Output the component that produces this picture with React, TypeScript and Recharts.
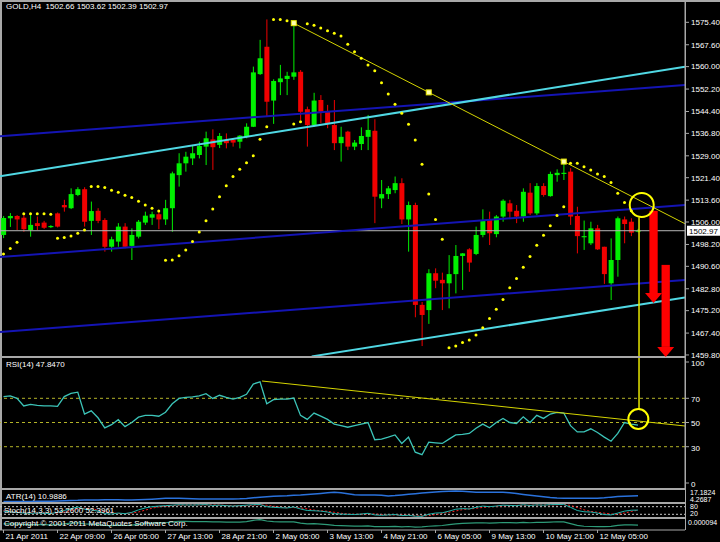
import React from 'react';
import {
  ComposedChart,
  Bar,
  Line,
  Scatter,
  XAxis,
  YAxis,
  ReferenceLine,
  ReferenceDot,
} from 'recharts';

// GOLD H4, 21 Apr - 12 May 2011, one entry per 4h bar
const opens = [
  1501.5, 1507.3, 1508.1, 1507.5, 1503.2, 1505.6, 1505.8, 1504.2, 1509.0, 1511.9,
  1510.8, 1515.4, 1517.4, 1506.4, 1509.9, 1506.7, 1497.4, 1499.2, 1504.4, 1497.7,
  1500.9, 1505.8, 1507.5, 1508.7, 1506.9, 1510.8, 1522.3, 1526.4, 1528.1, 1529.3,
  1532.2, 1534.7, 1532.8, 1534.5, 1534.5, 1533.9, 1535.6, 1539.1, 1557.4, 1566.9,
  1548.2, 1554.6, 1555.7, 1556.5, 1558.2, 1545.2, 1539.7, 1548.4, 1544.3, 1539.7,
  1533.4, 1537.4, 1532.2, 1533.1, 1535.6, 1537.7, 1514.2, 1515.7, 1517.1, 1519.5,
  1506.9, 1511.9, 1477.2, 1475.4, 1488.2, 1485.9, 1484.7, 1487.9, 1494.2, 1496.5,
  1494.9, 1501.5, 1506.7, 1501.8, 1507.9, 1512.5, 1509.9, 1507.9, 1516.2, 1509.0,
  1518.5, 1515.0, 1522.3, 1522.7, 1523.5, 1508.1, 1500.7, 1498.6, 1503.8, 1497.4,
  1484.7, 1492.8, 1506.9, 1506.1, 1502.66,
];
const highs = [
  1508.1, 1509.1, 1508.4, 1508.4, 1508.4, 1507.9, 1506.4, 1504.9, 1509.3, 1513.7,
  1517.7, 1518.1, 1518.1, 1513.1, 1510.8, 1507.3, 1500.9, 1505.6, 1505.6, 1503.8,
  1506.7, 1509.6, 1509.6, 1510.2, 1513.7, 1523.5, 1529.9, 1530.4, 1532.8, 1533.9,
  1537.4, 1538.2, 1536.9, 1536.8, 1535.1, 1536.2, 1540.3, 1560.0, 1569.3, 1576.4,
  1555.6, 1560.6, 1558.2, 1575.1, 1558.8, 1546.1, 1550.9, 1550.1, 1546.7, 1548.4,
  1539.1, 1537.7, 1534.5, 1538.9, 1543.2, 1541.7, 1520.6, 1518.5, 1521.8, 1521.2,
  1513.1, 1512.7, 1478.2, 1489.6, 1489.9, 1488.4, 1494.5, 1498.0, 1495.2, 1496.9,
  1504.4, 1510.4, 1509.6, 1508.4, 1513.9, 1513.7, 1511.9, 1517.7, 1519.5, 1519.5,
  1519.5, 1523.5, 1524.3, 1527.0, 1524.7, 1511.3, 1506.5, 1506.1, 1505.0, 1497.4,
  1500.3, 1507.9, 1507.9, 1507.3, 1503.62,
];
const lows = [
  1500.4, 1504.3, 1503.2, 1502.6, 1500.9, 1503.2, 1503.6, 1503.9, 1504.1, 1509.6,
  1510.5, 1515.0, 1504.4, 1501.5, 1505.6, 1495.7, 1495.7, 1497.4, 1496.9, 1492.8,
  1500.3, 1505.0, 1505.0, 1503.5, 1505.0, 1502.6, 1518.3, 1523.5, 1525.8, 1528.1,
  1525.8, 1524.1, 1531.7, 1531.6, 1532.2, 1531.6, 1535.1, 1539.0, 1557.1, 1542.8,
  1540.1, 1550.1, 1550.1, 1555.4, 1541.4, 1532.2, 1539.1, 1540.3, 1538.6, 1531.0,
  1527.0, 1531.0, 1531.0, 1531.0, 1531.0, 1505.6, 1510.8, 1514.0, 1516.0, 1505.3,
  1495.7, 1472.9, 1462.9, 1470.6, 1483.0, 1475.4, 1476.0, 1481.2, 1482.4, 1488.7,
  1494.5, 1500.7, 1498.0, 1500.7, 1506.1, 1507.3, 1505.6, 1506.1, 1508.4, 1508.4,
  1514.8, 1514.8, 1520.0, 1520.6, 1505.0, 1495.1, 1496.3, 1498.0, 1496.3, 1484.5,
  1478.9, 1487.0, 1498.6, 1501.1, 1502.39,
];
const closes = [
  1507.4, 1508.1, 1506.9, 1503.5, 1505.0, 1504.6, 1504.0, 1504.6, 1504.4, 1511.1,
  1515.7, 1517.4, 1506.1, 1509.8, 1506.4, 1497.4, 1500.0, 1504.4, 1497.4, 1501.5,
  1506.1, 1508.2, 1508.7, 1506.9, 1510.8, 1522.9, 1526.4, 1528.7, 1529.9, 1532.4,
  1535.1, 1532.0, 1535.9, 1533.4, 1533.6, 1536.0, 1539.1, 1558.0, 1562.9, 1547.8,
  1555.0, 1555.9, 1556.8, 1558.0, 1544.3, 1539.7, 1548.2, 1544.3, 1540.3, 1533.4,
  1535.6, 1532.2, 1533.6, 1535.9, 1538.0, 1514.8, 1515.7, 1517.7, 1519.5, 1506.9,
  1511.9, 1477.2, 1473.7, 1488.2, 1485.6, 1484.7, 1487.9, 1494.2, 1495.1, 1491.9,
  1501.5, 1506.7, 1502.1, 1507.9, 1513.4, 1509.6, 1507.9, 1516.5, 1509.0, 1518.5,
  1515.4, 1522.7, 1523.1, 1523.1, 1507.9, 1501.1, 1501.1, 1503.8, 1496.5, 1487.9,
  1492.8, 1507.3, 1505.3, 1502.3, 1502.97,
];
// Parabolic SAR
const sar = [
  1494.9, 1496.8, 1499.0, 1508.9, 1508.9, 1508.9, 1508.9, 1508.7, 1500.4, 1500.6,
  1501.1, 1502.1, 1503.2, 1518.3, 1518.3, 1518.0, 1517.0, 1516.3, 1515.3, 1514.5,
  1513.2, 1511.9, 1510.8, 1509.8, 1492.7, 1492.8, 1494.3, 1496.3, 1499.2, 1502.5,
  1506.4, 1510.5, 1514.8, 1518.6, 1521.8, 1524.3, 1526.6, 1529.0, 1534.8, 1539.1,
  1576.4, 1576.4, 1575.9, 1540.1, 1540.8, 1574.9, 1574.4, 1573.4, 1572.5, 1571.6,
  1570.6, 1567.8, 1565.2, 1562.9, 1560.6, 1558.6, 1554.4, 1550.5, 1546.9, 1543.8,
  1540.0, 1534.5, 1526.1, 1515.7, 1506.9, 1500.0, 1462.3, 1462.9, 1464.1, 1465.0,
  1466.7, 1469.3, 1472.5, 1475.7, 1479.1, 1483.2, 1486.4, 1490.3, 1494.0, 1497.9,
  1501.4, 1504.7, 1508.3, 1511.3, 1526.4, 1526.4, 1525.2, 1524.1, 1522.7, 1521.8,
  1519.7, 1516.0, 1512.8, 1509.9, null,
];
const rsi = [
  71.4, 72.0, 69.9, 63.7, 65.0, 64.2, 63.7, 63.7, 63.4, 71.4,
  74.0, 75.1, 57.0, 59.6, 53.9, 45.6, 48.2, 52.3, 46.6, 50.0,
  54.4, 55.9, 55.9, 55.2, 58.5, 65.5, 69.9, 70.7, 71.2, 72.0,
  73.8, 69.9, 72.5, 70.7, 69.4, 70.7, 73.3, 81.8, 83.6, 65.5,
  68.9, 69.4, 69.4, 70.2, 55.9, 52.6, 57.8, 55.2, 52.6, 48.7,
  47.4, 46.1, 47.4, 48.7, 50.0, 35.8, 36.3, 37.9, 39.7, 32.7,
  37.9, 25.5, 23.4, 33.7, 33.2, 32.7, 36.3, 39.7, 40.2, 41.0,
  45.3, 48.7, 45.6, 50.0, 53.4, 50.0, 49.2, 54.7, 50.0, 55.9,
  53.4, 57.0, 58.3, 57.8, 47.4, 42.2, 42.2, 44.8, 41.7, 37.9,
  34.5, 41.0, 50.0, 48.7, 47.847,
];
const atr = [
  4.4, 4.4, 4.3, 4.3, 4.4, 4.5, 4.6, 4.7, 4.9, 5.2,
  5.5, 5.6, 5.9, 6.0, 6.0, 6.2, 6.3, 6.2, 6.1, 6.0,
  6.3, 6.6, 7.0, 7.5, 8.0, 8.2, 8.0, 7.7, 7.4, 7.2,
  7.2, 7.3, 7.2, 7.1, 7.2, 7.4, 7.9, 8.6, 9.2, 9.9,
  10.5, 10.8, 11.0, 11.5, 11.9, 12.5, 13.2, 13.8, 14.5, 15.1,
  14.4, 13.5, 12.3, 11.9, 11.8, 11.9, 11.5, 10.7, 11.2, 11.9,
  12.7, 13.4, 14.2, 14.8, 15.4, 15.9, 16.3, 16.6, 16.2, 15.6,
  15.1, 15.2, 15.0, 15.1, 15.2, 14.6, 13.6, 12.5, 11.5, 10.6,
  9.8, 9.0, 8.4, 8.0, 8.0, 8.1, 8.0, 8.0, 8.1, 8.6,
  9.4, 10.0, 10.5, 10.8, 10.99,
];
const stochMain = [
  45, 40, 35, 30, 28, 30, 28, 26, 35, 50,
  65, 78, 60, 55, 45, 25, 22, 30, 25, 35,
  55, 70, 80, 85, 88, 92, 95, 94, 93, 95,
  96, 90, 92, 88, 85, 88, 92, 96, 97, 80,
  75, 72, 70, 78, 62, 50, 48, 45, 38, 25,
  22, 20, 18, 22, 28, 15, 12, 15, 18, 10,
  12, 5, 4, 20, 30, 32, 45, 60, 65, 62,
  75, 85, 80, 85, 92, 90, 88, 95, 90, 94,
  92, 96, 97, 98, 75, 50, 40, 38, 30, 18,
  15, 30, 45, 52, 53.26,
];
const stochSignal = [
  48, 44, 40, 35, 31, 29, 29, 28, 30, 37,
  50, 64, 68, 64, 53, 42, 31, 26, 26, 30,
  38, 53, 68, 78, 84, 88, 92, 94, 94, 94,
  95, 94, 93, 90, 88, 87, 88, 92, 95, 91,
  84, 76, 72, 73, 70, 63, 53, 48, 44, 36,
  28, 22, 20, 20, 23, 22, 18, 14, 15, 14,
  13, 9, 7, 10, 18, 27, 36, 46, 57, 62,
  67, 74, 80, 83, 86, 89, 90, 91, 91, 93,
  92, 94, 95, 97, 90, 74, 55, 43, 36, 29,
  21, 21, 30, 42, 52.4,
];
const extra = [
  5.5, 5.6, 5.4, 5.0, 4.8, 4.9, 4.8, 4.7, 4.9, 5.6,
  6.2, 6.6, 5.6, 5.4, 5.0, 4.2, 4.0, 4.4, 4.1, 4.5,
  5.2, 5.8, 6.2, 6.4, 6.6, 7.4, 7.8, 7.8, 7.7, 7.6,
  7.6, 7.3, 7.4, 7.2, 7.1, 7.2, 7.6, 8.8, 9.5, 8.2,
  7.6, 7.4, 7.3, 7.4, 6.2, 5.5, 5.8, 5.3, 4.9, 4.2,
  3.9, 3.7, 3.6, 3.6, 3.8, 3.0, 3.0, 3.1, 3.3, 2.9,
  3.2, 2.7, 2.8, 3.4, 3.8, 4.1, 4.8, 5.6, 6.0, 6.2,
  6.4, 6.6, 6.3, 6.5, 6.8, 6.7, 6.5, 6.9, 6.6, 7.0,
  6.9, 7.2, 7.5, 7.3, 5.8, 4.2, 3.4, 3.2, 3.0, 3.0,
  3.3, 4.2, 4.6, 4.6, 4.5,
];

const priceTicks = [
  1575.4, 1567.6, 1560.0, 1552.2, 1544.4, 1536.8, 1529.0, 1521.4,
  1513.6, 1506.0, 1498.2, 1490.6, 1482.8, 1475.2, 1467.4, 1459.8,
];
const rsiTicks = [0, 30, 50, 70, 100];
const dateBars = [0, 8, 16, 24, 32, 40, 48, 56, 64, 72, 80, 88];
const dateLabels = [
  '21 Apr 2011', '22 Apr 09:00', '26 Apr 05:00', '27 Apr 13:00', '28 Apr 21:00', '2 May 05:00',
  '3 May 13:00', '4 May 21:00', '6 May 05:00', '9 May 13:00', '10 May 21:00', '12 May 05:00',
];
const lastPrice = 1502.97;

// drawn objects, anchored in (bar, price)
const channelCyan = [
  [-0.52, 1521.9, 100.96, 1560.0],
  [45.66, 1459.3, 100.96, 1479.8],
];
const channelBlue = [
  [-0.52, 1535.8, 100.96, 1553.6],
  [-0.52, 1493.8, 100.96, 1511.9],
  [-0.52, 1467.8, 100.96, 1485.85],
];
const priceTrend = [43, 1575.1, 83, 1527.0];
const rsiTrend = [38.3, 84.3, 100.96, 47.1];
const arrows = [
  [96.3, 1509.9, 1481.3],
  [98.1, 1491.1, 1462.6],
];

const X_MIN = -0.5185;
const X_MAX = 100.96;
const FONT = '"Liberation Sans", Arial, sans-serif';
const BULL = '#00f000';
const BEAR = '#f00000';
const FRAME = '#a8a8a8';
const YELLOW = '#ffff00';

const mainRows = opens.map((o, i) => ({
  i,
  o,
  h: highs[i],
  l: lows[i],
  c: closes[i],
  range: [lows[i], highs[i]],
  sar: sar[i],
}));
const rsiRows = rsi.map((v, i) => ({ i, v }));
const atrRows = atr.map((v, i) => ({ i, v }));
const stochRows = stochMain.map((v, i) => ({ i, v, s: stochSignal[i] }));
const extraRows = extra.map((v, i) => ({ i, v }));

const Candle = (props: any) => {
  const { x, y, width, height, payload } = props;
  if (!payload || !isFinite(y) || !isFinite(height)) return null;
  const { o, h, l, c } = payload;
  const cx = x + width / 2;
  const span = h - l || 1;
  const py = (p: number) => y + ((h - p) / span) * height;
  const color = c >= o ? BULL : BEAR;
  const top = py(Math.max(o, c));
  const bot = py(Math.min(o, c));
  return (
    <g>
      <line x1={cx} x2={cx} y1={y} y2={y + height} stroke={color} strokeWidth={1} />
      <rect x={cx - 2.5} y={top} width={5} height={Math.max(1, bot - top)} fill={color} />
    </g>
  );
};

const SarDot = (props: any) => {
  const { cx, cy } = props;
  if (!isFinite(cx) || !isFinite(cy)) return null;
  return <circle cx={cx} cy={cy} r={1.5} fill={YELLOW} />;
};

const Square = (props: any) => (
  <rect x={props.cx - 2.5} y={props.cy - 2.5} width={5} height={5} fill="#ffffb0" stroke="#e8e800" />
);

const ArrowHead = (props: any) => (
  <polygon
    points={`${props.cx - 8.5},${props.cy} ${props.cx + 8.5},${props.cy} ${props.cx},${props.cy + 10}`}
    fill="#ff0000"
  />
);

const PriceTag = (props: any) => {
  const vb = props.viewBox || {};
  const x = vb.x + vb.width + 2;
  const y = vb.y;
  return (
    <g>
      <rect x={x} y={y - 5} width={34} height={10} fill="#ffffff" />
      <text x={x + 2} y={y + 3} fill="#000" fontSize={8} fontFamily={FONT}>
        {lastPrice.toFixed(2)}
      </text>
    </g>
  );
};

const DateTick = (props: any) => {
  const { x, y, payload } = props;
  const idx = dateBars.indexOf(payload.value);
  return (
    <text x={x + 2} y={y + 6} fill="#fff" fontSize={8} fontFamily={FONT}>
      {dateLabels[idx]}
    </text>
  );
};

const trendEnd = () => {
  const [x1, p1, x2, p2] = priceTrend;
  const slope = (p2 - p1) / (x2 - x1);
  return p2 + slope * (X_MAX - x2);
};

const txt = (s: string, left: number, top: number, size = 8) => (
  <div
    style={{
      position: 'absolute',
      left,
      top,
      fontSize: size,
      lineHeight: `${size}px`,
      color: '#fff',
      fontFamily: FONT,
      whiteSpace: 'pre',
    }}
  >
    {s}
  </div>
);

const bar = (left: number, top: number, width: number, height: number) => (
  <div style={{ position: 'absolute', left, top, width, height, background: FRAME }} />
);

export default function App() {
  const hiddenX = (
    <XAxis type="number" dataKey="i" domain={[X_MIN, X_MAX]} allowDataOverflow hide />
  );
  return (
    <div
      style={{
        position: 'absolute',
        left: 0,
        top: 0,
        width: 720,
        height: 542,
        background: '#000',
        overflow: 'hidden',
      }}
    >
      {/* frame, under the windows */}
      {bar(0, 0, 720, 2)}
      {bar(0, 0, 2, 530)}
      {bar(0, 356, 685, 2)}
      {bar(0, 488, 685, 2)}
      {bar(0, 502, 685, 2)}
      {bar(0, 517, 685, 2)}
      {bar(685, 0, 1, 530)}

      {/* RSI window */}
      <div style={{ position: 'absolute', left: 0, top: 358 }}>
        <ComposedChart width={720} height={130} data={rsiRows} margin={{ top: 0, right: 0, bottom: 0, left: 0 }}>
          {hiddenX}
          <YAxis
            orientation="right"
            width={35}
            domain={[-4.13, 103.31]}
            allowDataOverflow
            ticks={rsiTicks}
            interval={0}
            tick={{ fill: '#fff', fontSize: 8, fontFamily: FONT, dy: 1 }}
            tickSize={4}
            tickMargin={2}
            axisLine={{ stroke: FRAME }}
            tickLine={{ stroke: FRAME }}
          />
          {[70, 50, 30].map((lv) => (
            <ReferenceLine key={lv} y={lv} stroke="#b4b428" strokeDasharray="3 3" />
          ))}
          <Line dataKey="v" stroke="#3cc4b8" strokeWidth={1.3} dot={false} isAnimationActive={false} />
          <ReferenceLine
            segment={[{ x: rsiTrend[0], y: rsiTrend[1] }, { x: rsiTrend[2], y: rsiTrend[3] }]}
            stroke="#d4d400"
            strokeWidth={1}
            ifOverflow="hidden"
          />
          <ReferenceLine
            segment={[{ x: 94.15, y: 103.31 }, { x: 94.15, y: 60.3 }]}
            stroke="#e8e800"
            strokeWidth={1.5}
            ifOverflow="hidden"
          />
          <ReferenceDot x={94.05} y={52.9} r={10} fill="none" stroke={YELLOW} strokeWidth={2} ifOverflow="visible" />
        </ComposedChart>
      </div>

      {/* price window (taller svg so the lowest price label is not clipped) */}
      <div style={{ position: 'absolute', left: 0, top: 0 }}>
        <ComposedChart width={720} height={361} data={mainRows} margin={{ top: 2, right: 0, bottom: 5, left: 0 }}>
          {hiddenX}
          <YAxis
            orientation="right"
            width={35}
            domain={[1459.44, 1582.455]}
            allowDataOverflow
            ticks={priceTicks}
            interval={0}
            tickFormatter={(v: number) => v.toFixed(2)}
            tick={{ fill: '#fff', fontSize: 8, fontFamily: FONT }}
            tickSize={4}
            tickMargin={2}
            axisLine={{ stroke: FRAME }}
            tickLine={{ stroke: FRAME }}
          />
          <ReferenceLine y={lastPrice} stroke="#b8b8b8" strokeWidth={1} label={PriceTag} />
          {channelBlue.map((s, k) => (
            <ReferenceLine
              key={'b' + k}
              segment={[{ x: s[0], y: s[1] }, { x: s[2], y: s[3] }]}
              stroke="#1414b4"
              strokeWidth={2}
              ifOverflow="hidden"
            />
          ))}
          {channelCyan.map((s, k) => (
            <ReferenceLine
              key={'c' + k}
              segment={[{ x: s[0], y: s[1] }, { x: s[2], y: s[3] }]}
              stroke="#50d8e4"
              strokeWidth={2}
              ifOverflow="hidden"
            />
          ))}
          <Bar dataKey="range" barSize={5} shape={Candle} isAnimationActive={false} />
          <Scatter dataKey="sar" shape={SarDot} isAnimationActive={false} />
          <ReferenceLine
            segment={[{ x: priceTrend[0], y: priceTrend[1] }, { x: X_MAX, y: trendEnd() }]}
            stroke="#d4d400"
            strokeWidth={1}
            ifOverflow="hidden"
          />
          <ReferenceDot x={priceTrend[0]} y={priceTrend[1]} shape={Square} ifOverflow="visible" />
          <ReferenceDot
            x={(priceTrend[0] + priceTrend[2]) / 2}
            y={(priceTrend[1] + priceTrend[3]) / 2}
            shape={Square}
            ifOverflow="visible"
          />
          <ReferenceDot x={priceTrend[2]} y={priceTrend[3]} shape={Square} ifOverflow="visible" />
          <ReferenceLine
            segment={[{ x: 94.15, y: 1507.6 }, { x: 94.15, y: 1459.44 }]}
            stroke="#e8e800"
            strokeWidth={1.5}
            ifOverflow="hidden"
          />
          <ReferenceDot x={94.55} y={1511.9} r={12} fill="none" stroke={YELLOW} strokeWidth={2} ifOverflow="visible" />
          {arrows.map((a, k) => (
            <ReferenceLine
              key={'a' + k}
              segment={[{ x: a[0], y: a[1] }, { x: a[0], y: a[2] }]}
              stroke="#ff0000"
              strokeWidth={8.3}
              ifOverflow="visible"
            />
          ))}
          {arrows.map((a, k) => (
            <ReferenceDot key={'h' + k} x={a[0]} y={a[2]} shape={ArrowHead} ifOverflow="visible" />
          ))}
        </ComposedChart>
      </div>

      {/* ATR window */}
      <div style={{ position: 'absolute', left: 0, top: 490 }}>
        <ComposedChart width={720} height={12} data={atrRows} margin={{ top: 0, right: 35, bottom: 0, left: 0 }}>
          {hiddenX}
          <YAxis domain={[3.68, 17.77]} allowDataOverflow hide />
          <Line dataKey="v" stroke="#2a72dc" strokeWidth={1.5} dot={false} isAnimationActive={false} />
        </ComposedChart>
      </div>

      {/* Stochastic window */}
      <div style={{ position: 'absolute', left: 0, top: 504 }}>
        <ComposedChart width={720} height={13} data={stochRows} margin={{ top: 0, right: 35, bottom: 0, left: 0 }}>
          {hiddenX}
          <YAxis domain={[-1.3, 101.3]} allowDataOverflow hide />
          <ReferenceLine y={80} stroke="#c8c8c8" strokeDasharray="2 2" />
          <ReferenceLine y={20} stroke="#c8c8c8" strokeDasharray="2 2" />
          <Line dataKey="s" stroke="#ff2020" strokeWidth={1} strokeDasharray="2 2" dot={false} isAnimationActive={false} />
          <Line dataKey="v" stroke="#20b2aa" strokeWidth={1} dot={false} isAnimationActive={false} />
        </ComposedChart>
      </div>

      {/* bottom window with time axis */}
      <div style={{ position: 'absolute', left: 0, top: 519 }}>
        <ComposedChart width={720} height={23} data={extraRows} margin={{ top: 0, right: 35, bottom: 0, left: 0 }}>
          <XAxis
            type="number"
            dataKey="i"
            domain={[X_MIN, X_MAX]}
            allowDataOverflow
            ticks={dateBars}
            interval={0}
            height={12}
            tickSize={3}
            tickMargin={0}
            tick={DateTick}
            axisLine={{ stroke: FRAME }}
            tickLine={{ stroke: FRAME }}
          />
          <YAxis domain={[0, 10]} allowDataOverflow hide />
          <Line dataKey="v" stroke="#2e9a78" strokeWidth={1.2} dot={false} isAnimationActive={false} />
        </ComposedChart>
      </div>

      {/* window captions */}
      {txt('GOLD,H4  1502.66 1503.62 1502.39 1502.97', 6, 3)}
      {txt('RSI(14) 47.8470', 6, 361)}
      {txt('ATR(14) 10.9886', 6, 493)}
      {txt('Stoch(14,3,3) 53.2600 52.3961', 4, 507)}
      {txt('Copyright © 2001-2011 MetaQuotes Software Corp.', 4, 520)}
      {txt('17.1824', 690, 489, 7)}
      {txt('4.2687', 690, 496, 7)}
      {txt('80', 690, 503, 7)}
      {txt('20', 690, 510, 7)}
      {txt('0.000094', 688, 519, 7)}
    </div>
  );
}
